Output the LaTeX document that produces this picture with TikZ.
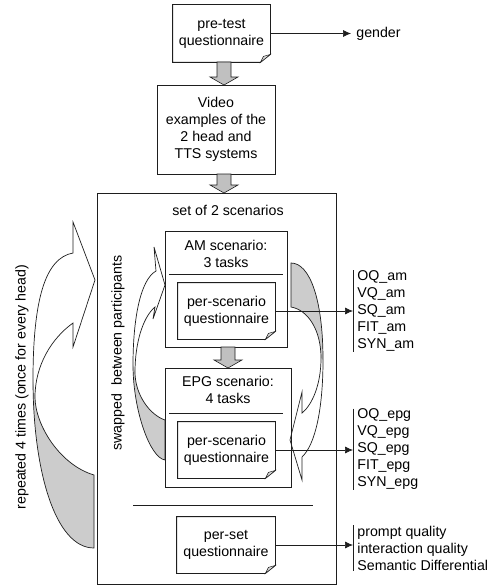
\documentclass[tikz,border=0pt]{standalone}
\usepackage{fontspec}
\setmainfont{Liberation Sans}
\usetikzlibrary{arrows.meta}
\definecolor{lncol}{RGB}{30,30,30}
\definecolor{agray}{RGB}{192,192,192}
\definecolor{cgray}{RGB}{204,204,204}
\definecolor{fgray}{RGB}{215,215,215}
\newcommand\blockarrow[3]{\filldraw[blockarr] (#1-7,#2) -- (#1+7,#2) -- (#1+7,#3-8) -- (#1+14,#3-8) -- (#1,#3) -- (#1-14,#3-8) -- (#1-7,#3-8) -- cycle;}
\newcommand\docoutline[1]{%
 \draw[lncol] (#1.north west) -- (#1.north east) -- ([yshift=8pt]#1.south east) -- ([xshift=-10pt]#1.south east) -- (#1.south west) -- cycle;
 \filldraw[draw=lncol, fill=fgray, line width=0.5pt] ([xshift=-10pt]#1.south east) -- ([xshift=-7pt,yshift=6pt]#1.south east) -- ([yshift=8pt]#1.south east) -- cycle;}
\begin{document}
\begin{tikzpicture}[x=1pt,y=-1pt, line width=0.8pt,
  every node/.style={font=\fontsize{14.2}{17}\selectfont, text=black},
  box/.style={draw=lncol, align=center, inner sep=0pt},
  doc/.style={align=center, inner sep=0pt},
  lst/.style={align=left, anchor=west, inner xsep=4pt, inner ysep=0pt},
  conn/.style={draw=lncol, line width=0.7pt, -{Latex[length=8pt,width=7pt]}},
  blockarr/.style={fill=agray, draw=lncol, line width=0.6pt},
  crv/.style={draw=lncol, line width=0.7pt}
]
\useasboundingbox (0,0) rectangle (492,586);

% curved arrows
\fill[cgray] (94,548) .. controls (55,548) and (33,470) .. (33,380) -- (35,397) .. controls (35,425) and (60,465) .. (94,475) -- cycle;
\draw[crv] (94,548) .. controls (55,548) and (33,470) .. (33,380) .. controls (33,300) and (45,258) .. (73,253) -- (73,222) -- (95,280) -- (73,347) -- (73,323) .. controls (52,338) and (35,365) .. (35,397) .. controls (35,425) and (60,465) .. (94,475) -- cycle;

\fill[cgray] (165,460) .. controls (150,458) and (133,410) .. (133,365) -- (135,372) .. controls (135,395) and (150,415) .. (165,420) -- cycle;
\draw[crv] (165,460) .. controls (150,458) and (133,410) .. (133,365) .. controls (133,320) and (140,280) .. (156,271) -- (154,247) -- (165,285) -- (153,319) -- (155,307) .. controls (142,318) and (135,345) .. (135,372) .. controls (135,395) and (150,415) .. (165,420) -- cycle;

\fill[cgray] (291,263) .. controls (310,263) and (323,300) .. (323,360) -- (321,358) .. controls (321,330) and (308,310) .. (291,307) -- cycle;
\draw[crv] (291,307) .. controls (308,310) and (321,330) .. (321,358) .. controls (321,385) and (312,405) .. (302,413) -- (302,392) -- (290,440) -- (302,480) -- (302,457) .. controls (315,445) and (323,410) .. (323,360) .. controls (323,300) and (310,263) .. (291,263) -- cycle;

% rotated labels
\node[rotate=90] (rep) at (22,387) {repeated 4 times (once for every head)};
\node[rotate=90] (swap) at (118,353) {swapped\ \ between participants};

% top part
\node[doc, minimum width=97pt, minimum height=57pt] (pretest) at (221.5,33.5) {pre-test\\questionnaire};
\docoutline{pretest}
\node[anchor=west, inner xsep=5pt] (gender) at (351,33.5) {gender};
\node[box, minimum width=118pt, minimum height=89pt] (video) at (216,129.5) {Video\\examples of the\\2 head and\\TTS systems};
\blockarrow{224}{62}{85}
\blockarrow{224}{174}{193}

% big set box
\node[box, minimum width=239pt, minimum height=391pt] (set) at (216.5,388.5) {};
\node (settitle) at (228,210) {set of 2 scenarios};

% AM scenario
\node[box, minimum width=122pt, minimum height=116pt] (am) at (226,289) {};
\node[align=center] (amt) at (226,253.5) {AM scenario:\\3 tasks};
\draw[lncol] (169,274) -- (283,274);
\node[doc, minimum width=97pt, minimum height=56pt] (amq) at (226.5,311) {per-scenario\\questionnaire};
\docoutline{amq}
\blockarrow{228}{347}{368}

% EPG scenario
\node[box, minimum width=126pt, minimum height=119pt] (epg) at (228,427.5) {};
\node[align=center] (epgt) at (228,389.5) {EPG scenario:\\4 tasks};
\draw[lncol] (169,413) -- (283,413);
\node[doc, minimum width=97pt, minimum height=56pt] (epgq) at (226.5,450) {per-scenario\\questionnaire};
\docoutline{epgq}

% per-set
\draw[lncol] (133,505) -- (313,505);
\node[doc, minimum width=98pt, minimum height=56pt] (setq) at (226,545) {per-set\\questionnaire};
\docoutline{setq}

% lists
\node[lst] (amlist) at (353,311) {OQ\_am\\VQ\_am\\SQ\_am\\FIT\_am\\SYN\_am};
\draw[lncol] (amlist.north west) -- (amlist.south west);
\node[lst] (epglist) at (353,449.5) {OQ\_epg\\VQ\_epg\\SQ\_epg\\FIT\_epg\\SYN\_epg};
\draw[lncol] (epglist.north west) -- (epglist.south west);
\node[lst] (setlist) at (353,548) {prompt quality\\interaction quality\\Semantic Differential};
\draw[lncol] (setlist.north west) -- (setlist.south west);

% connectors
\draw[conn] (pretest.east) -- (gender.west);
\draw[conn] (amq.east) -- (amq.east -| amlist.west);
\draw[conn] (epgq.east) -- (epgq.east -| epglist.west);
\draw[conn] (setq.east) -- (setq.east -| setlist.west);
\end{tikzpicture}
\end{document}
